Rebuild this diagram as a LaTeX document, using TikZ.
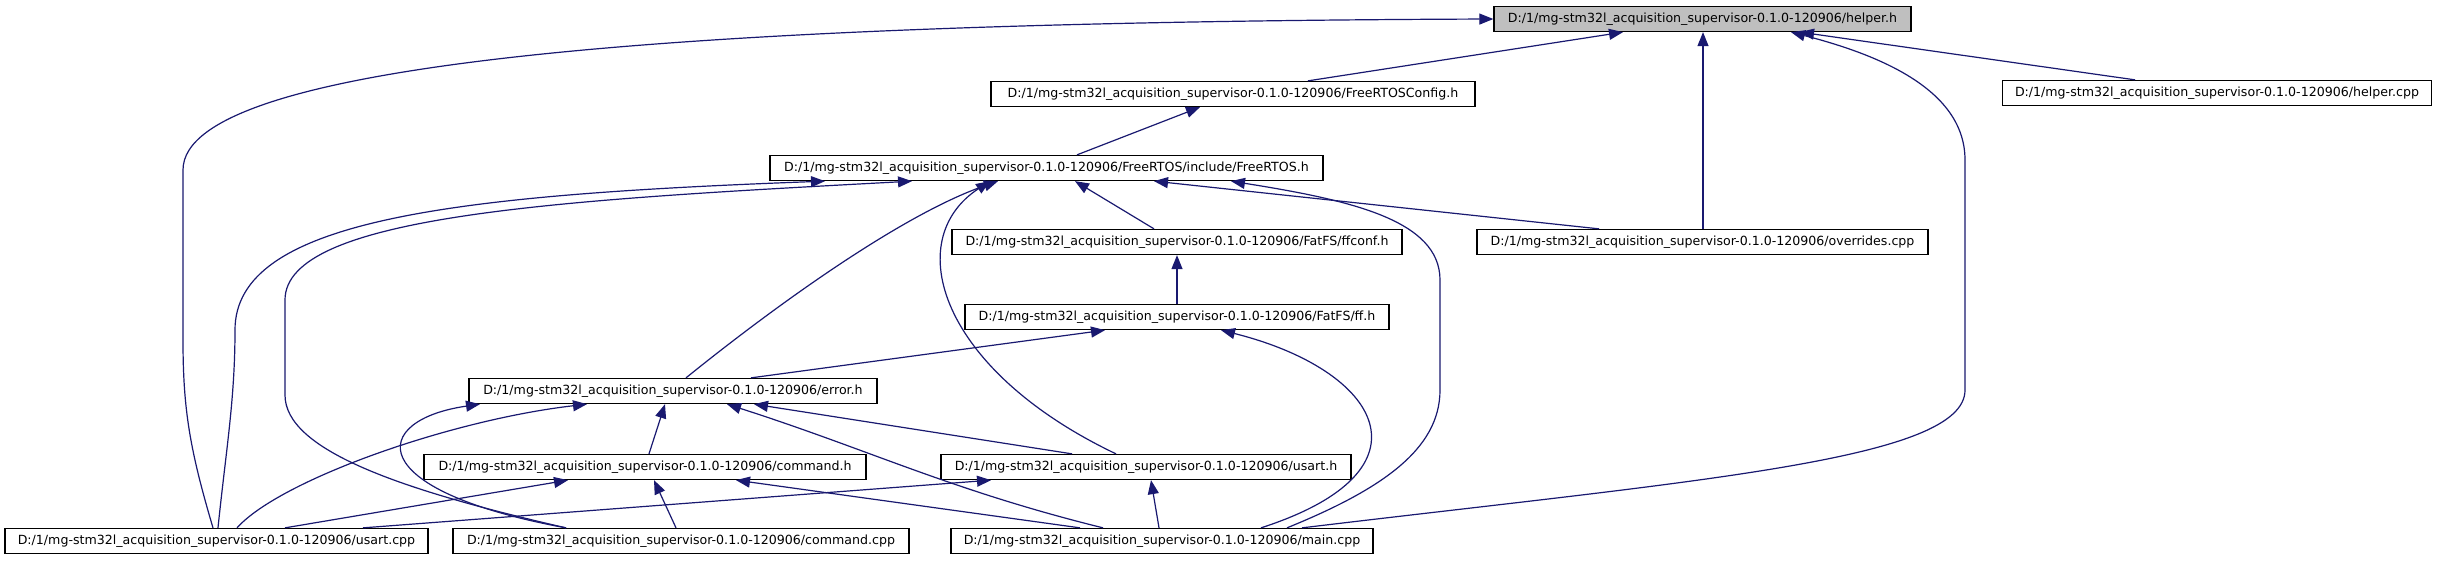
\documentclass[tikz,border=0pt]{standalone}
\usepackage{fontspec}
\setmainfont{DejaVu Sans}
\usetikzlibrary{arrows.meta}
\definecolor{edgeblue}{RGB}{25,25,112}
\definecolor{rootgray}{RGB}{191,191,191}
\newcommand\prefx{D:/1/mg-stm32l\_acquisition\_supervisor-0.1.0-120906/}
\begin{document}
\begin{tikzpicture}[x=1pt,y=-1pt,
  file/.style={draw=black, line width=1.3pt, fill=white, minimum height=25pt, inner sep=0pt, font=\fontsize{12.6}{15}\selectfont, text=black},
  dep/.style={draw=edgeblue, line width=1.2pt, -{Triangle[length=14pt,width=11pt]}}]
\useasboundingbox[fill=white] (0,0) rectangle (2439,560);
% nodes
\node[file, fill=rootgray, minimum width=417pt] (helperh) at (1702.5,19) {\prefx helper.h};
\node[file, minimum width=484pt] (configh) at (1233,94) {\prefx FreeRTOSConfig.h};
\node[file, minimum width=429pt] (helpercpp) at (2217,93) {\prefx helper.cpp};
\node[file, minimum width=553pt] (freertosh) at (1046.5,168) {\prefx FreeRTOS/include/FreeRTOS.h};
\node[file, minimum width=450pt] (ffconfh) at (1177,242) {\prefx FatFS/ffconf.h};
\node[file, minimum width=451pt] (overrides) at (1702.5,242) {\prefx overrides.cpp};
\node[file, minimum width=424pt] (ffh) at (1177,317) {\prefx FatFS/ff.h};
\node[file, minimum width=408pt] (errorh) at (673,391) {\prefx error.h};
\node[file, minimum width=442pt] (commandh) at (645,467) {\prefx command.h};
\node[file, minimum width=410pt] (usarth) at (1146,467) {\prefx usart.h};
\node[file, minimum width=423pt] (usartcpp) at (216.5,541) {\prefx usart.cpp};
\node[file, minimum width=456pt] (commandcpp) at (681,541) {\prefx command.cpp};
\node[file, minimum width=422pt] (maincpp) at (1162,541) {\prefx main.cpp};
% edges into helper.h
\draw[dep] (1308,0 |- configh.north) -- (1623,0 |- helperh.south);
\draw[dep] (1703,0 |- overrides.north) -- (1703,0 |- helperh.south);
\draw[dep] (1302,0 |- maincpp.north) .. controls (1700,480) and (1965,460) .. (1965,390) -- (1965,160) .. controls (1965,90) and (1880,55) .. (1791,0 |- helperh.south);
\draw[dep] (2135,0 |- helpercpp.north) -- (1800,0 |- helperh.south);
\draw[dep] (213,0 |- usartcpp.north) .. controls (190,450) and (183,410) .. (183,340) -- (183,170) .. controls (183,60) and (700,22) .. (helperh.west);
% into FreeRTOSConfig.h
\draw[dep] (1077,0 |- freertosh.north) -- (1200,0 |- configh.south);
% into FreeRTOS.h
\draw[dep] (218,0 |- usartcpp.north) .. controls (226,450) and (235,400) .. (235,330) .. controls (235,220) and (450,195) .. (825,0 |- freertosh.south);
\draw[dep] (566,0 |- commandcpp.north) .. controls (400,490) and (285,450) .. (285,395) -- (285,300) .. controls (285,215) and (560,200) .. (912,0 |- freertosh.south);
\draw[dep] (686,0 |- errorh.north) .. controls (770,310) and (900,215) .. (998,0 |- freertosh.south);
\draw[dep] (1116,0 |- usarth.north) .. controls (940,370) and (900,240) .. (990,0 |- freertosh.south);
\draw[dep] (1154,0 |- ffconfh.north) -- (1075,0 |- freertosh.south);
\draw[dep] (1599,0 |- overrides.north) -- (1154,0 |- freertosh.south);
\draw[dep] (1287,0 |- maincpp.north) .. controls (1380,490) and (1440,450) .. (1440,390) -- (1440,280) .. controls (1440,220) and (1350,200) .. (1231,0 |- freertosh.south);
% into ffconf.h
\draw[dep] (ffh.north) -- (ffconfh.south);
% into ff.h
\draw[dep] (751,0 |- errorh.north) -- (1105,0 |- ffh.south);
\draw[dep] (1261,0 |- maincpp.north) .. controls (1440,470) and (1380,370) .. (1221,0 |- ffh.south);
% into error.h
\draw[dep] (237,0 |- usartcpp.north) .. controls (280,480) and (450,420) .. (587,0 |- errorh.south);
\draw[dep] (566,0 |- commandcpp.north) .. controls (360,490) and (370,420) .. (480,0 |- errorh.south);
\draw[dep] (649,0 |- commandh.north) -- (665,0 |- errorh.south);
\draw[dep] (1072,0 |- usarth.north) -- (754,0 |- errorh.south);
\draw[dep] (1103,0 |- maincpp.north) .. controls (950,490) and (870,450) .. (727,0 |- errorh.south);
% into command.h
\draw[dep] (285,0 |- usartcpp.north) -- (568,0 |- commandh.south);
\draw[dep] (676,0 |- commandcpp.north) -- (654,0 |- commandh.south);
\draw[dep] (1080,0 |- maincpp.north) -- (736,0 |- commandh.south);
% into usart.h
\draw[dep] (363,0 |- usartcpp.north) -- (991,0 |- usarth.south);
\draw[dep] (1159,0 |- maincpp.north) -- (1151,0 |- usarth.south);
\end{tikzpicture}
\end{document}
